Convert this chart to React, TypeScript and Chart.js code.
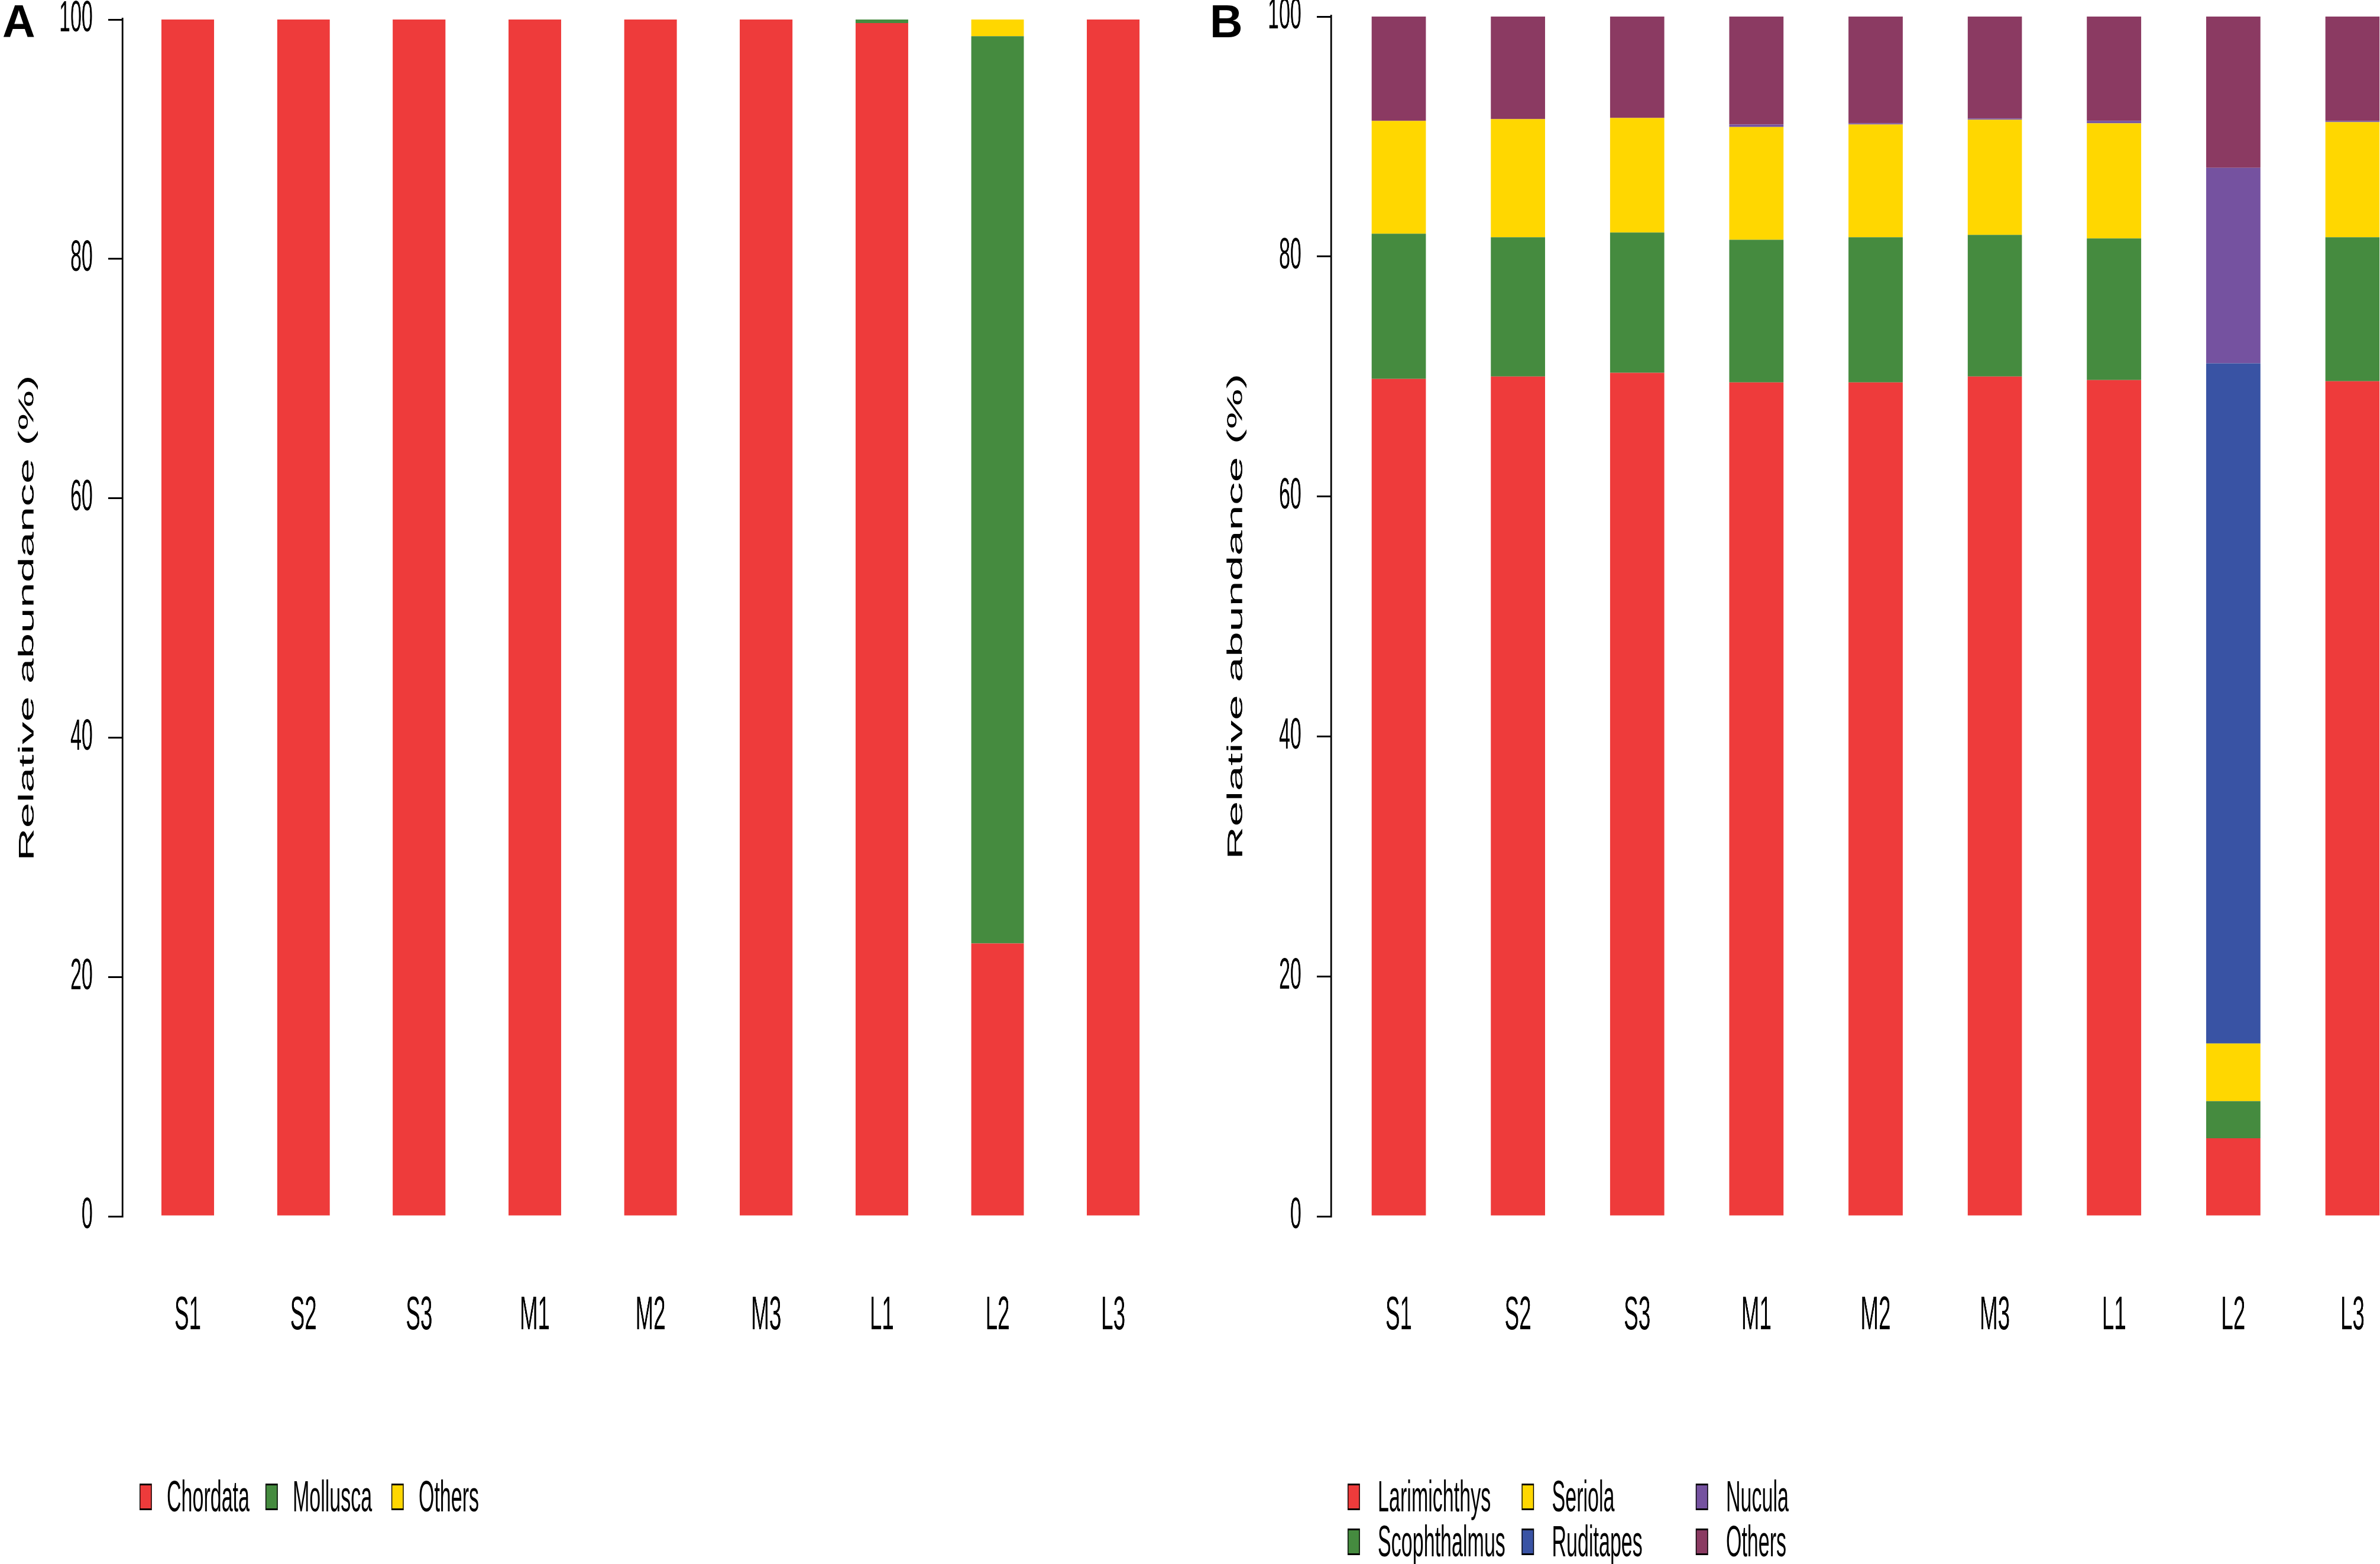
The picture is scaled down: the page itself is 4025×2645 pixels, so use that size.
import { useEffect, useRef } from 'react'
import { Chart, BarController, BarElement, LinearScale, type ChartOptions } from 'chart.js'

Chart.register(BarController, BarElement, LinearScale)

const FONT = "'Liberation Sans', Arial, Helvetica, sans-serif"
Chart.defaults.font.family = FONT
Chart.defaults.color = '#000'

// the source figure is squeezed sideways: lay each panel out wide, then scale it back
const SX = 0.46
const PAGE_H = 2645
const LEGEND_TOP = 2493

const SAMPLES = ['S1', 'S2', 'S3', 'M1', 'M2', 'M3', 'L1', 'L2', 'L3']

// A: phylum level
const PHYLA = ['Chordata', 'Mollusca', 'Others']
const PHYLUM_COLORS = ['#EE3B3B', '#458B3F', '#FFD700']
const CHORDATA      = [100, 100, 100, 100, 100, 100, 99.7, 22.8, 100]
const MOLLUSCA      = [0, 0, 0, 0, 0, 0, 0.3, 75.8, 0]
const PHYLUM_OTHERS = [0, 0, 0, 0, 0, 0, 0, 1.4, 0]

// B: genus level
const GENERA = ['Larimichthys', 'Scophthalmus', 'Seriola', 'Ruditapes', 'Nucula', 'Others']
const GENUS_COLORS = ['#EE3B3B', '#458B3F', '#FFD700', '#3953A4', '#7552A0', '#8B3A62']
const LARIMICHTHYS = [69.8, 70.0, 70.3, 69.5, 69.5, 70.0, 69.7, 6.5, 69.6]
const SCOPHTHALMUS = [12.1, 11.6, 11.7, 11.9, 12.1, 11.8, 11.8, 3.1, 12.0]
const SERIOLA      = [9.4, 9.85, 9.55, 9.4, 9.4, 9.6, 9.6, 4.8, 9.6]
const RUDITAPES    = [0, 0, 0, 0, 0, 0, 0, 56.7, 0]
const NUCULA       = [0, 0, 0, 0.2, 0.1, 0.1, 0.2, 16.3, 0.1]
const GENUS_OTHERS = [8.7, 8.55, 8.45, 9.0, 8.9, 8.5, 8.7, 12.6, 8.7]

interface PanelProps {
  left: number
  width: number
  top: number
  xMin: number
  xMax: number
  padRight: number
  labels: string[]
  colors: string[]
  series: number[][]
  legendRows: number
  legendLeft: number
  legendPitch: number
  legendGap: number
}

function Panel(p: PanelProps) {
  const canvasRef = useRef<HTMLCanvasElement>(null)
  const wide = Math.round(p.width / SX)

  useEffect(() => {
    if (!canvasRef.current) return

    const options: ChartOptions<'bar'> = {
      animation: false,
      responsive: false,
      devicePixelRatio: 1,
      layout: { padding: { top: p.top, bottom: 338, left: 0, right: p.padRight } },
      plugins: { legend: { display: false }, tooltip: { enabled: false } },
      datasets: { bar: { categoryPercentage: 1, barPercentage: 0.455 } },
      scales: {
        x: {
          type: 'linear',
          stacked: true,
          offset: false,
          min: p.xMin,
          max: p.xMax,
          afterBuildTicks: (s) => { s.ticks = SAMPLES.map((_, i) => ({ value: i })) },
          afterFit: (s) => {
            s.height = 250
            s.paddingLeft = 0
            s.paddingRight = 0
          },
          grid: { display: false, drawTicks: false },
          border: { display: false },
          ticks: {
            callback: (v) => SAMPLES[v as number],
            autoSkip: false,
            maxRotation: 0,
            padding: 121,
            color: '#000',
            font: { size: 80 },
          },
        },
        y: {
          stacked: true,
          min: 0,
          max: 100,
          // fixed axis width; no extra room above/below for the tick labels
          afterFit: (s) => {
            s.width = 450
            s.paddingTop = 0
            s.paddingBottom = 0
          },
          border: { color: '#000', width: 6.5 },
          grid: { drawOnChartArea: false, drawTicks: true, tickLength: 52, color: '#000', lineWidth: 3 },
          ticks: { stepSize: 20, padding: 57, color: '#000', font: { size: 74 } },
          title: {
            display: true,
            text: 'Relative abundance (%)',
            color: '#000',
            font: { size: 77 },
            padding: { top: 56, bottom: 0 },
          },
        },
      },
    }

    const chart = new Chart(canvasRef.current, {
      type: 'bar',
      data: {
        labels: SAMPLES.map((_, i) => i),
        datasets: p.labels.map((label, k) => ({
          label,
          data: p.series[k],
          backgroundColor: p.colors[k],
        })),
      },
      options,
    })

    return () => chart.destroy()
  }, [])

  return (
    <div style={{ position: 'absolute', left: p.left, top: 0, width: p.width, height: PAGE_H, overflow: 'hidden' }}>
      <div style={{ position: 'relative', width: wide, height: PAGE_H, transform: `scaleX(${SX})`, transformOrigin: '0 0' }}>
        <canvas ref={canvasRef} width={wide} height={PAGE_H} style={{ display: 'block', width: wide, height: PAGE_H }} />
        <div
          style={{
            position: 'absolute',
            left: p.legendLeft,
            top: LEGEND_TOP,
            display: 'grid',
            gridAutoFlow: 'column',
            gridTemplateRows: `repeat(${p.legendRows}, 76px)`,
            gridAutoColumns: `${p.legendPitch}px`,
          }}
        >
          {p.labels.map((label, k) => (
            <div key={label} style={{ display: 'flex', alignItems: 'center' }}>
              <span
                style={{
                  width: 45,
                  height: 45,
                  flex: 'none',
                  boxSizing: 'border-box',
                  background: p.colors[k],
                  border: '3px solid #000',
                }}
              />
              <span style={{ marginLeft: p.legendGap, fontSize: 74, lineHeight: 1, whiteSpace: 'nowrap', color: '#000' }}>
                {label}
              </span>
            </div>
          ))}
        </div>
      </div>
    </div>
  )
}

const letterStyle = (left: number): React.CSSProperties => ({
  position: 'absolute',
  left,
  top: -2,
  fontSize: 77,
  fontWeight: 'bold',
  lineHeight: 1,
  color: '#000',
})

export default function App() {
  return (
    <div
      style={{
        position: 'fixed',
        left: 0,
        top: 0,
        width: 4025,
        height: PAGE_H,
        background: '#fff',
        overflow: 'hidden',
        fontFamily: FONT,
      }}
    >
      <Panel
        left={0}
        width={1997}
        top={33}
        xMin={-0.565}
        xMax={8.565}
        padRight={8}
        labels={PHYLA}
        colors={PHYLUM_COLORS}
        series={[CHORDATA, MOLLUSCA, PHYLUM_OTHERS]}
        legendRows={1}
        legendLeft={513}
        legendPitch={463}
        legendGap={55}
      />
      <Panel
        left={2044}
        width={1981}
        top={28}
        xMin={-0.568}
        xMax={8.232}
        padRight={0}
        labels={GENERA}
        colors={GENUS_COLORS}
        series={[LARIMICHTHYS, SCOPHTHALMUS, SERIOLA, RUDITAPES, NUCULA, GENUS_OTHERS]}
        legendRows={2}
        legendLeft={511}
        legendPitch={640}
        legendGap={66}
      />
      <div style={letterStyle(4)}>A</div>
      <div style={letterStyle(2046)}>B</div>
    </div>
  )
}
